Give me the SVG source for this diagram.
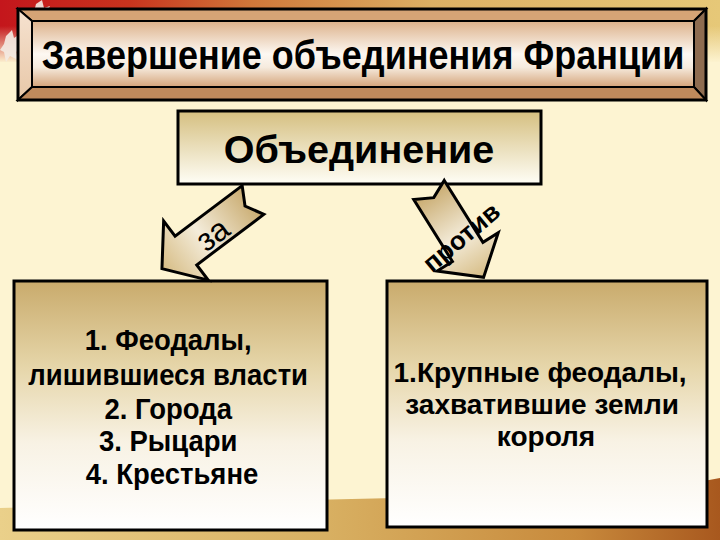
<svg xmlns="http://www.w3.org/2000/svg" width="720" height="540" viewBox="0 0 720 540">
  <defs>
    <linearGradient id="topBand" x1="0" y1="0" x2="1" y2="0">
      <stop offset="0" stop-color="#c4161c"/>
      <stop offset="0.18" stop-color="#c8341e"/>
      <stop offset="0.35" stop-color="#d0783a"/>
      <stop offset="0.6" stop-color="#dcb064"/>
      <stop offset="1" stop-color="#e6c878"/>
    </linearGradient>
    <linearGradient id="bandFade" x1="0" y1="0" x2="0" y2="1">
      <stop offset="0" stop-color="#fdf4d2" stop-opacity="0"/>
      <stop offset="1" stop-color="#fdf4d2" stop-opacity="1"/>
    </linearGradient>
    <linearGradient id="bottomBand" x1="0" y1="0" x2="1" y2="0">
      <stop offset="0" stop-color="#ead08a"/>
      <stop offset="0.45" stop-color="#d8b062"/>
      <stop offset="0.8" stop-color="#c88a3c"/>
      <stop offset="1" stop-color="#a8581e"/>
    </linearGradient>
    <linearGradient id="titleFace" x1="0" y1="0" x2="0" y2="1">
      <stop offset="0" stop-color="#dcb18a"/>
      <stop offset="0.5" stop-color="#fdf8f2"/>
      <stop offset="0.7" stop-color="#f6ebde"/>
      <stop offset="1" stop-color="#d4a47a"/>
    </linearGradient>
    <linearGradient id="leftBevel" x1="0" y1="0" x2="0" y2="1">
      <stop offset="0" stop-color="#f6e2d0"/>
      <stop offset="1" stop-color="#e8c8a8"/>
    </linearGradient>
    <linearGradient id="boxFill" x1="0" y1="0" x2="0" y2="1">
      <stop offset="0" stop-color="#c9ab6c"/>
      <stop offset="0.35" stop-color="#e6d6aa"/>
      <stop offset="0.65" stop-color="#f8f2e4"/>
      <stop offset="1" stop-color="#ffffff"/>
    </linearGradient>
    <linearGradient id="headFill" x1="0" y1="0" x2="0" y2="1">
      <stop offset="0" stop-color="#d5bf80"/>
      <stop offset="1" stop-color="#fffef6"/>
    </linearGradient>
    <linearGradient id="arrowFill" x1="0" y1="0" x2="1" y2="0">
      <stop offset="0" stop-color="#c8aa6e"/>
      <stop offset="0.55" stop-color="#f4ecda"/>
      <stop offset="1" stop-color="#d6bc84"/>
    </linearGradient>
  </defs>
  <style>
    .box { stroke: #000; stroke-width: 3; }
    .bevel { stroke: #000; stroke-width: 2; stroke-linejoin: miter; }
    .arrow { fill: url(#arrowFill); stroke: #000; stroke-width: 3; stroke-linejoin: miter; }
    .t { font-family: "Liberation Sans", Arial, sans-serif; font-weight: bold; fill: #000; text-anchor: middle; }
    .lbl { font-family: "Liberation Sans", Arial, sans-serif; fill: #000; text-anchor: middle; }
  </style>

  <!-- background -->
  <rect x="0" y="0" width="720" height="540" fill="#fdf4d2"/>
  <rect x="0" y="0" width="720" height="62" fill="url(#topBand)"/>
  <rect x="0" y="26" width="720" height="37" fill="url(#bandFade)"/>
  <g fill="#f4ece4" opacity="0.9">
    <path d="M6,36 L12,30 L14,38 L20,34 L18,44 L24,46 L16,52 L18,60 L10,56 L6,62 L4,52 L0,50 L4,44 Z"/>
    <path d="M36,4 L42,0 L44,8 L50,6 L46,14 L40,16 L34,12 Z"/>
  </g>
  <path d="M0,508 Q300,500 560,494 Q660,490 720,478 L720,540 L0,540 Z" fill="url(#bottomBand)"/>

  <!-- title -->
  <g id="title">
    <polygon class="bevel" points="18,9 706,9 694,21 32,21" fill="#d6a476"/>
    <polygon class="bevel" points="18,9 32,21 32,87 18,100" fill="url(#leftBevel)"/>
    <polygon class="bevel" points="706,9 706,100 694,87 694,21" fill="#8e6c50"/>
    <polygon class="bevel" points="18,100 32,87 694,87 706,100" fill="#bf8a5c"/>
    <rect x="32" y="21" width="662" height="66" fill="url(#titleFace)" stroke="#000" stroke-width="2"/>
    <rect x="18" y="9" width="688" height="91" fill="none" stroke="#000" stroke-width="3"/>
    <text class="t" font-size="36" transform="translate(363,69) scale(1,1.12)">Завершение объединения Франции</text>
  </g>

  <!-- top node -->
  <g id="node-unification">
    <rect class="box" x="178" y="111" width="363" height="73" fill="url(#headFill)"/>
    <text class="t" x="359" y="163" font-size="39.5">Объединение</text>
  </g>

  <!-- left node -->
  <g id="node-for">
    <rect class="box" x="14" y="281" width="313" height="249" fill="url(#boxFill)"/>
    <text class="t" font-size="27.5" transform="matrix(1,0,0,1.1,0,-41.6)">
      <tspan x="172" y="356">1. Феодалы,</tspan>
      <tspan x="172" y="387.8">лишившиеся власти</tspan>
      <tspan x="172" y="418.7">2. Города</tspan>
      <tspan x="172" y="447.8">3. Рыцари</tspan>
      <tspan x="172" y="477.8">4. Крестьяне</tspan>
    </text>
  </g>

  <!-- right node -->
  <g id="node-against">
    <rect class="box" x="387" y="281" width="320" height="246" fill="url(#boxFill)"/>
    <text class="t" font-size="28">
      <tspan x="544" y="382">1.Крупные феодалы,</tspan>
      <tspan x="546" y="414">захватившие земли</tspan>
      <tspan x="546" y="446">короля</tspan>
    </text>
  </g>

  <!-- connectors -->
  <g id="connectors">
    <g id="arrow-for">
      <polygon class="arrow" transform="translate(253,200) rotate(143)" points="0,-18 84,-18 84,-37 114,0 84,37 84,18 0,18 10,0"/>
      <text class="lbl" font-size="32" transform="translate(219,243) rotate(-37)">за</text>
    </g>
    <g id="arrow-against">
      <polygon class="arrow" transform="translate(429,190) rotate(58)" points="0,-18 73,-18 73,-36 103,0 73,36 73,18 0,18 9,0"/>
      <text class="t" font-size="26" transform="translate(467,244) rotate(-40)">против</text>
    </g>
  </g>
</svg>
